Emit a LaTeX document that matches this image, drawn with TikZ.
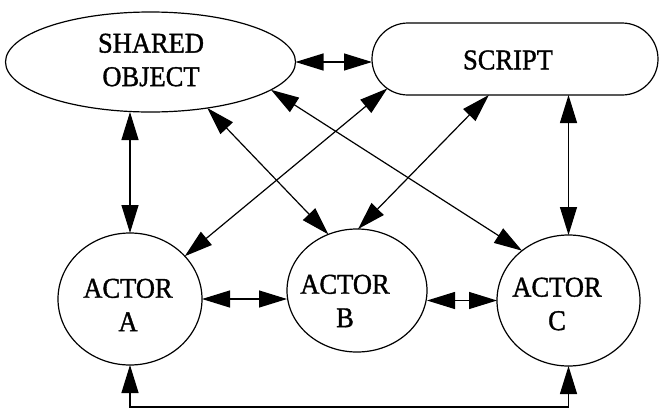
\documentclass[tikz,border=0pt]{standalone}
\usepackage{fontspec}
\setmainfont{Liberation Serif}
\newfontfamily\lblfont{Liberation Serif}[FakeBold=1.3]
\usetikzlibrary{arrows.meta,shapes.geometric,shapes.misc}
\begin{document}
\begin{tikzpicture}[x=1pt,y=-1pt,
  shp/.style={draw, line width=1.2pt, inner sep=0pt, outer sep=0pt},
  lbl/.style={font=\lblfont\fontsize{26.5}{31}\selectfont, align=center, inner sep=0pt, yscale=1.08, transform shape},
  link/.style={line width=1.2pt, {Triangle[length=28pt,width=17pt]}-{Triangle[length=28pt,width=17pt]}}]
\useasboundingbox (0,0) rectangle (660,410);
\node[shp, ellipse, minimum width=290pt, minimum height=100pt] (shared) at (150.5,62) {};
\node[shp, rounded rectangle, minimum width=286pt, minimum height=72pt] (script) at (515,59) {};
\node[shp, ellipse, minimum width=144pt, minimum height=132pt] (A) at (130,299) {};
\node[shp, ellipse, minimum width=140pt, minimum height=123pt] (B) at (357,290.5) {};
\node[shp, ellipse, minimum width=143pt, minimum height=131pt] (C) at (568.5,300.5) {};
\node[lbl] (tshared) at (151,60) {SHARED\\OBJECT};
\node[lbl] (tscript) at (508,60) {SCRIPT};
\node[lbl] (tA) at (128,305) {ACTOR\\A};
\node[lbl] (tB) at (345,301) {ACTOR\\B};
\node[lbl] (tC) at (557,304) {ACTOR\\C};
\draw[link] (shared.east) -- (shared.east -| script.west);
\draw[link] (shared.south -| A.north) -- (A.north);
\draw[link] (shared.-39.8) -- (B.117.6);
\draw[link] (shared.-13.2) -- (C.133.2);
\draw[link] (script.193.4) -- (A.38.4);
\draw[link] (script.234.6) -- (B.89);
\draw[link] (script.south -| C.north) -- (C.north);
\draw[link] (A.east) -- (A.east -| B.west);
\draw[link] (C.west -| B.east) -- (C.west);
\coordinate (bot) at (350,407);
\draw[link] (A.south) -- (A.south |- bot) -- (C.south |- bot) -- (C.south);
\end{tikzpicture}
\end{document}
